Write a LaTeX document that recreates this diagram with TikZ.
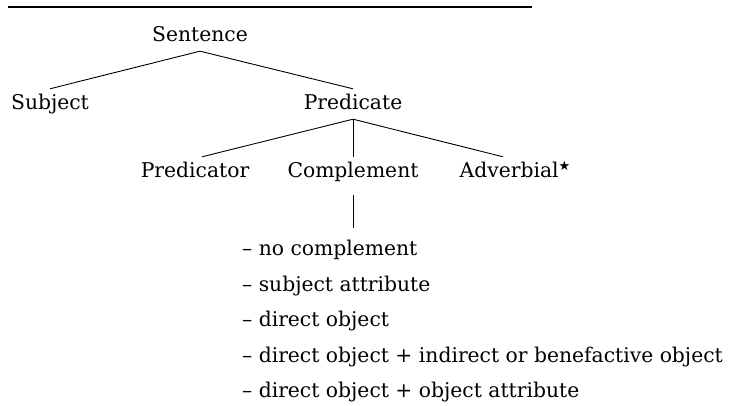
\documentclass[tikz,border=0pt]{standalone}
\usepackage{fontspec}
\setmainfont{DejaVu Serif}
\newfontfamily\starfont{DejaVu Sans}
\usepackage{tikz}
\usetikzlibrary{positioning}

\newcommand{\advstar}{\raisebox{0.36em}{\starfont\fontsize{13}{13}\selectfont ★}}

\begin{document}
\begin{tikzpicture}[x=1pt,y=1pt,font=\fontsize{20.3}{24}\selectfont,
    lbl/.style={anchor=base, text height=18pt, text depth=6pt, inner sep=3pt},
    item/.style={anchor=base west, inner sep=0pt},
    branch/.style={line width=0.9pt}]
    \useasboundingbox (0,0) rectangle (733,406);
    \draw[line width=1.3pt] (8,399) -- (532,399);
    % tree levels
    \node[lbl] (sentence) at (200,364) {Sentence};
    \node[lbl] (subject) at (50,296) {Subject};
    \node[lbl] (predicate) at (353,296) {Predicate};
    \node[lbl] (predicator) at (195,228) {Predicator};
    \node[lbl] (complement) at (353,228) {Complement};
    \node[lbl] (adverbial) at (515,228) {Adverbial\advstar};
    % complement types
    \foreach \n/\y/\txt in {1/150/no complement, 2/114.5/subject attribute,
        3/79/direct object, 4/43.5/direct object + indirect or benefactive object,
        5/8/direct object + object attribute}{
        \node[item] (item\n) at (242,\y) {\textendash\ \txt};
    }
    \draw[branch] (sentence.south) -- (subject.north);
    \draw[branch] (sentence.south) -- (predicate.north);
    \draw[branch] (predicate.south) -- ([xshift=7pt]predicator.north);
    \draw[branch] (predicate.south) -- (complement.north);
    \draw[branch] (predicate.south) -- ([xshift=-12pt]adverbial.north);
    \draw[branch] ([yshift=-8pt]complement.south) -- ([yshift=28pt]complement.south |- item1.base);
\end{tikzpicture}
\end{document}
